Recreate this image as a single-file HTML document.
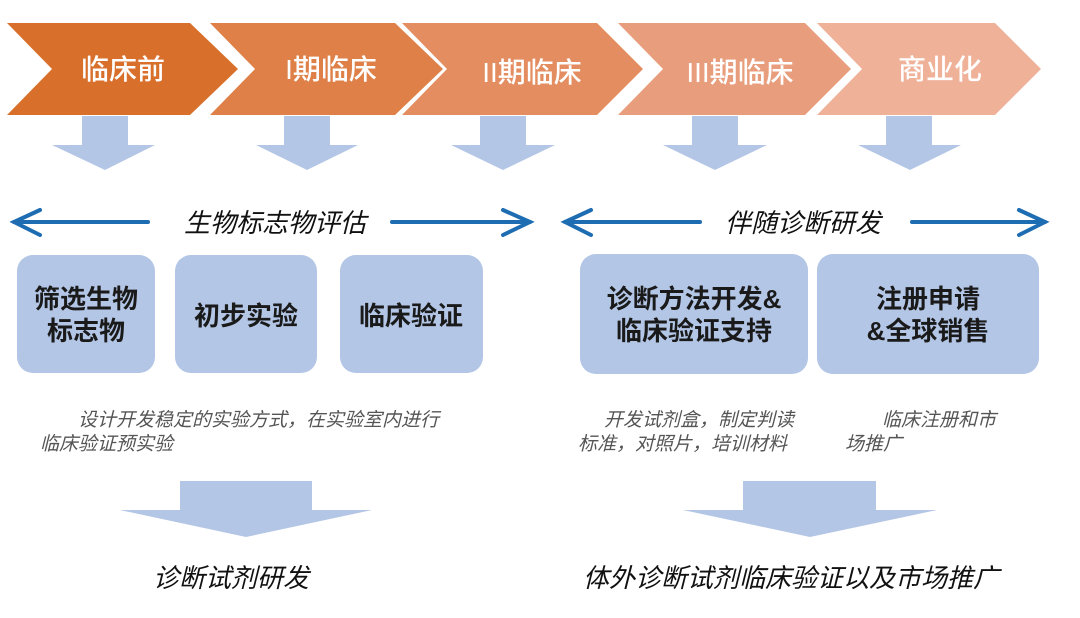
<!DOCTYPE html>
<html><head><meta charset="utf-8"><style>
html,body{margin:0;padding:0;background:#fff;}
svg{display:block;}
text{font-family:"Liberation Sans","Noto Sans CJK SC",sans-serif;}
</style></head><body>
<svg width="1080" height="618" viewBox="0 0 1080 618" xmlns="http://www.w3.org/2000/svg">
<!-- chevrons -->
<polygon points="7,23 190,23 238,69 190,115 7,115 52,69" fill="#d8702c"/>
<polygon points="210,23 395,23 443,69 395,115 210,115 255,69" fill="#de8048"/>
<polygon points="402,23 597,23 643,69 597,115 402,115 447,69" fill="#e38d60"/>
<polygon points="618,23 805,23 851,69 805,115 618,115 663,69" fill="#e89d7c"/>
<polygon points="817,23 995,23 1041,69 995,115 817,115 862,69" fill="#efb299"/>
<g fill="#fff" font-size="28" font-weight="500" text-anchor="middle">
<text x="123" y="79">临床前</text>
<text x="331" y="79">I期临床</text>
<text x="532" y="82">II期临床</text>
<text x="740" y="82">III期临床</text>
<text x="940" y="79">商业化</text>
</g>
<!-- small down arrows -->
<g fill="#b4c6e6">
<polygon points="82,116 128,116 128,145 155,145 105,170 52,145 82,145"/>
<polygon points="284,116 330,116 330,145 358,145 307,170 256,145 284,145"/>
<polygon points="480,116 526,116 526,145 555,145 503,170 451,145 480,145"/>
<polygon points="692,116 738,116 738,145 767,145 715,170 663,145 692,145"/>
<polygon points="886,116 932,116 932,145 961,145 910,170 858,145 886,145"/>
</g>
<!-- blue double arrows -->
<g stroke="#1e6db3" stroke-width="4" fill="none" stroke-linecap="round">
<line x1="14" y1="222" x2="148" y2="222"/><polyline points="40,210 14,222 40,235"/>
<line x1="392" y1="222" x2="530" y2="222"/><polyline points="503,210 530,222 503,235"/>
<line x1="565" y1="222" x2="700" y2="222"/><polyline points="591,210 565,222 591,235"/>
<line x1="912" y1="222" x2="1045" y2="222"/><polyline points="1019,210 1045,222 1019,235"/>
</g>
<g fill="#111" font-size="26" font-style="italic" text-anchor="middle">
<text x="275" y="232">生物标志物评估</text>
<text x="803" y="232">伴随诊断研发</text>
</g>
<!-- boxes -->
<g fill="#b3c6e6">
<rect x="17" y="255" width="138" height="118" rx="16"/>
<rect x="175" y="255" width="142" height="118" rx="16"/>
<rect x="340" y="255" width="143" height="118" rx="16"/>
<rect x="580" y="254" width="228" height="120" rx="16"/>
<rect x="817" y="254" width="222" height="120" rx="16"/>
</g>
<g fill="#1a1a1a" font-size="26" font-weight="bold" text-anchor="middle">
<text x="86" y="308">筛选生物</text>
<text x="86" y="340">标志物</text>
<text x="246" y="325">初步实验</text>
<text x="411" y="325">临床验证</text>
<text x="694" y="308">诊断方法开发&amp;</text>
<text x="694" y="340">临床验证支持</text>
<text x="928" y="308">注册申请</text>
<text x="928" y="340">&amp;全球销售</text>
</g>
<!-- descriptions -->
<g fill="#555" font-size="19" font-style="italic">
<text x="78" y="426">设计开发稳定的实验方式，在实验室内进行</text>
<text x="40" y="450">临床验证预实验</text>
<text x="604" y="426">开发试剂盒，制定判读</text>
<text x="578" y="450">标准，对照片，培训材料</text>
<text x="882" y="426">临床注册和市</text>
<text x="845" y="450">场推广</text>
</g>
<!-- big down arrows -->
<g fill="#b4c6e6">
<polygon points="180,481 312,481 312,510 372,510 246,537 120,510 180,510"/>
<polygon points="743,481 876,481 876,510 937,510 810,537 683,510 743,510"/>
</g>
<g fill="#111" font-size="26" font-style="italic" text-anchor="middle">
<text x="231" y="587">诊断试剂研发</text>
<text x="791" y="587">体外诊断试剂临床验证以及市场推广</text>
</g>
</svg>
</body></html>
